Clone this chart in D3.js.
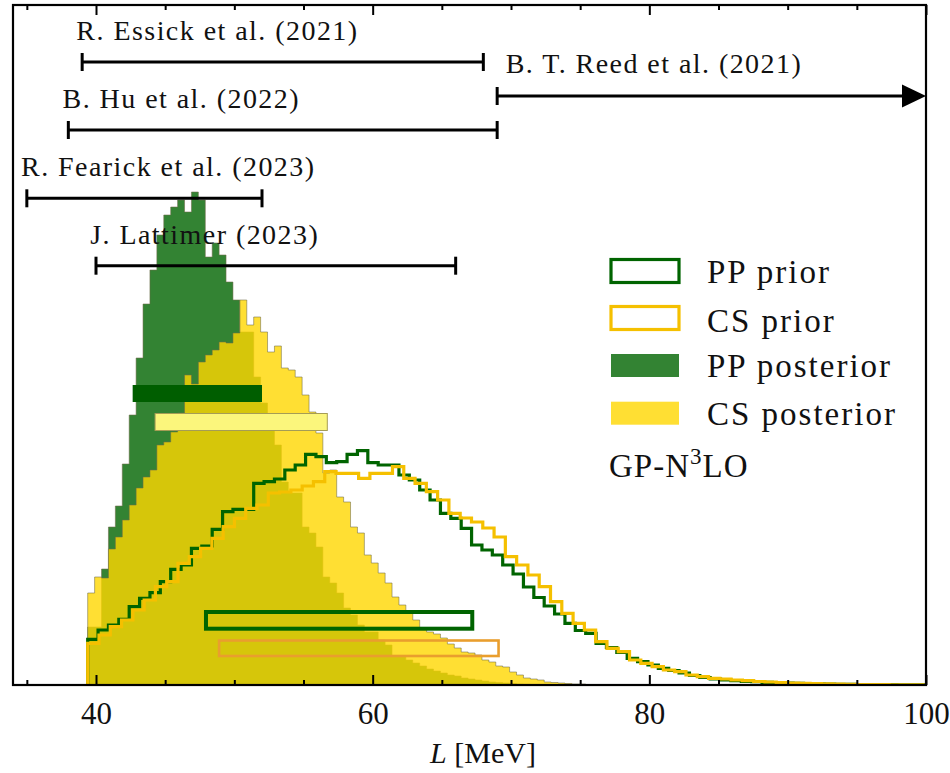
<!DOCTYPE html>
<html>
<head>
<meta charset="utf-8">
<script src="https://cdn.jsdelivr.net/npm/d3@7"></script>
<style>
  body { margin: 0; background: #fff; }
  text { font-family: "Liberation Serif", "Times New Roman", serif; fill: #111; }
</style>
</head>
<body>
<svg id="chart" width="950" height="773"></svg>
<script>
// ---- data ---------------------------------------------------------------
// All histograms start at the same lower edge of L (MeV).
const histStart = 39.4;

// Posterior histograms: 0.5 MeV bins, relative density (arbitrary units)
const posteriorBinWidth = 0.5;
const ppPosterior = [
  58, 58, 116, 158, 179, 221, 270, 327, 381, 415,
  450, 470, 478, 485, 473, 493, 485, 428, 442, 430,
  403, 385, 353, 353, 308, 282, 265, 240, 203, 192,
  192, 158, 152, 138, 108, 102, 92, 77, 70, 60,
  53, 53, 45, 40, 28, 28, 25, 22, 19, 16,
  14, 12, 10, 9, 7, 6, 5, 4, 3, 2.5,
  2, 1.5, 1, 0.7, 0.5, 0.3, 0.2
];
const csPosterior = [
  92, 108, 107, 136, 148, 165, 180, 197, 208, 215,
  240, 243, 253, 272, 310, 301, 323, 330, 335, 343,
  342, 352, 385, 360, 368, 353, 333, 339, 317, 315,
  308, 290, 273, 252, 212, 215, 188, 183, 158, 152,
  130, 122, 112, 102, 88, 80, 73, 65, 57, 53,
  51, 47, 41, 37, 33, 32, 30, 25, 23, 19,
  18, 13, 10, 7, 6, 5, 3, 2.5, 2, 1.5,
  1, 1, 0.5, 0.5, 0.3, 0.2
];

// Prior histograms (outlines): own bin widths
const ppPriorBinWidth = 0.75;
const ppPrior = [
  45.7, 55, 60, 65.7, 78.3, 86.7, 92.3, 103.3, 115.7, 120,
  136.7, 139, 155.7, 173.3, 175.7, 175.7, 201.7, 203.3, 206, 215,
  220, 230.7, 228.3, 222.3, 223.3, 230.7, 234.3, 222.3, 220, 220,
  210, 205, 195, 185, 171.7, 166.7, 156.7, 140, 135, 130,
  120, 111, 98, 87.5, 79, 71, 61.7, 54.5, 51.7, 41.7,
  37.5, 32.5, 26.7, 23.3, 20, 16.7, 14.5, 12, 9.5, 7.5,
  6, 5, 4.3, 3.7, 3.3, 2.7, 2.3, 2, 1.7, 1.4,
  1.2, 0.9, 0.7, 0.6, 0.5, 0.4, 0.3, 0.3, 0.2, 0.2, 0.1
];
const csPriorBinWidth = 0.816;
const csPrior = [
  41.7, 50, 58.3, 65, 75, 85, 98.3, 103.3, 121.7, 128.3,
  136.7, 146.7, 158.3, 166.7, 176.7, 180, 192, 193, 195, 199,
  203.3, 213.3, 211.7, 211.7, 206.7, 211.7, 211.7, 218.3, 206.7, 201.7,
  193.3, 185, 171.7, 167, 163, 157, 148, 128.3, 120, 110,
  98.3, 83.3, 71.7, 61.7, 55, 43.3, 36.7, 33.3, 25, 21.7,
  18.3, 15, 13.3, 10, 8.3, 6.7, 6, 5, 4.3, 3.5,
  3, 2.5, 2, 1.7, 1.4, 1.1, 0.9, 0.7, 0.5, 0.4,
  0.3, 0.2, 0.2, 0.1
];

// 68% intervals of each distribution (MeV)
const posteriorIntervals = [
  { name: "PP posterior", lo: 42.65, hi: 52.0 },
  { name: "CS posterior", lo: 44.27, hi: 56.72 }
];
const priorIntervals = [
  { name: "PP prior", lo: 47.95, hi: 67.2 },
  { name: "CS prior", lo: 48.9, hi: 69.1 }
];

// Literature constraints on L (MeV); hi = null means open-ended
const refNames = ["R. Essick et al. (2021)", "B. T. Reed et al. (2021)", "B. Hu et al. (2022)",
                  "R. Fearick et al. (2023)", "J. Lattimer (2023)"];
const refLo = [39.0, 69.0, 38.0, 35.0, 40.0];
const refHi = [68.0, null, 69.0, 52.0, 66.0];

const xTicks = [40, 60, 80, 100];
const xMinorTicks = [35, 45, 50, 55, 65, 70, 75, 85, 90, 95];
const legendNames = ["PP prior", "CS prior", "PP posterior", "CS posterior"];

// ---- layout -------------------------------------------------------------
const svg = d3.select("#chart");
const plot = { left: 13, right: 926, top: 5, bottom: 685 };
const x = d3.scaleLinear().domain([34, 100]).range([plot.left, plot.right]);
const y = d3.scaleLinear().domain([0, 680]).range([plot.bottom, plot.top]);

const colors = {
  ppDark: "#006400",
  gold: "#ffd700",
  csLine: "#f5c000",
  edge: "#6d6a48"
};

svg.append("defs").append("clipPath").attr("id", "plotClip")
  .append("rect")
  .attr("x", plot.left).attr("y", plot.top)
  .attr("width", plot.right - plot.left).attr("height", plot.bottom - plot.top);

const g = svg.append("g").attr("clip-path", "url(#plotClip)");

// outline points of a histogram, closed down to zero at both ends
function stepPoints(start, width, vals) {
  const pts = [[start, 0]];
  vals.forEach((v, i) => {
    pts.push([start + i * width, v]);
    pts.push([start + (i + 1) * width, v]);
  });
  pts.push([start + vals.length * width, 0]);
  return pts;
}
const line = d3.line().x(d => x(d[0])).y(d => y(d[1]));
const area = d3.area().x(d => x(d[0])).y0(y(0)).y1(d => y(d[1]));

// filled posteriors
[[ppPosterior, colors.ppDark], [csPosterior, colors.gold]].forEach(([vals, c]) => {
  const pts = stepPoints(histStart, posteriorBinWidth, vals);
  g.append("path").attr("d", area(pts)).attr("fill", c).attr("fill-opacity", 0.8);
  g.append("path").attr("d", line(pts)).attr("fill", "none")
    .attr("stroke", colors.edge).attr("stroke-opacity", 0.55).attr("stroke-width", 1);
});

// prior outlines
g.append("path").attr("d", line(stepPoints(histStart, ppPriorBinWidth, ppPrior)))
  .attr("fill", "none").attr("stroke", colors.ppDark).attr("stroke-width", 3.2);
g.append("path").attr("d", line(stepPoints(histStart, csPriorBinWidth, csPrior)))
  .attr("fill", "none").attr("stroke", colors.csLine).attr("stroke-width", 3.2);

// interval bars
const postBarY = [385, 413.5];
const postBarH = 17;
g.append("rect")
  .attr("x", x(posteriorIntervals[0].lo)).attr("y", postBarY[0])
  .attr("width", x(posteriorIntervals[0].hi) - x(posteriorIntervals[0].lo)).attr("height", postBarH)
  .attr("fill", "#005e00");
g.append("rect")
  .attr("x", x(posteriorIntervals[1].lo)).attr("y", postBarY[1])
  .attr("width", x(posteriorIntervals[1].hi) - x(posteriorIntervals[1].lo)).attr("height", postBarH)
  .attr("fill", "#fbf67c").attr("stroke", "#a59c55").attr("stroke-width", 1);

g.append("rect")
  .attr("x", x(priorIntervals[0].lo)).attr("y", 612)
  .attr("width", x(priorIntervals[0].hi) - x(priorIntervals[0].lo)).attr("height", 16.7)
  .attr("fill", "none").attr("stroke", colors.ppDark).attr("stroke-width", 4);
g.append("rect")
  .attr("x", x(priorIntervals[1].lo)).attr("y", 640.5)
  .attr("width", x(priorIntervals[1].hi) - x(priorIntervals[1].lo)).attr("height", 15.5)
  .attr("fill", "none").attr("stroke", "#e99e2e").attr("stroke-width", 2.6);

// literature error bars
const refRowY = [62, 96, 130, 198.3, 265.7];
const capH = 18;
const refs = refNames.map((name, i) => ({ name, lo: refLo[i], hi: refHi[i], yy: refRowY[i] }));
const refG = svg.append("g");
refs.forEach(r => {
  const x0 = x(r.lo);
  const openEnded = r.hi === null;
  const x1 = openEnded ? x.range()[1] : x(r.hi);
  refG.append("line").attr("x1", x0).attr("x2", openEnded ? x1 - 20 : x1)
    .attr("y1", r.yy).attr("y2", r.yy).attr("stroke", "#000").attr("stroke-width", 3);
  refG.append("line").attr("x1", x0).attr("x2", x0)
    .attr("y1", r.yy - capH / 2).attr("y2", r.yy + capH / 2).attr("stroke", "#000").attr("stroke-width", 3);
  if (openEnded) {
    refG.append("path")
      .attr("d", `M${x1},${r.yy} L${x1 - 24},${r.yy - 11.5} L${x1 - 24},${r.yy + 11.5} Z`)
      .attr("fill", "#000");
  } else {
    refG.append("line").attr("x1", x1).attr("x2", x1)
      .attr("y1", r.yy - capH / 2).attr("y2", r.yy + capH / 2).attr("stroke", "#000").attr("stroke-width", 3);
  }
  // open-ended bars carry their label to the right, the others above
  const lx = openEnded ? x0 + 8.5 : x0 - 5.8;
  const ly = openEnded ? r.yy - 22.7 : r.yy - 22;
  refG.append("text").attr("x", lx).attr("y", ly)
    .attr("font-size", 28).attr("letter-spacing", 1.45).text(r.name);
});

// ---- axes and frame -------------------------------------------------------
const axG = svg.append("g");
const bottomMajor = axG.append("g").attr("transform", `translate(0,${plot.bottom})`)
  .call(d3.axisBottom(x).tickValues(xTicks).tickSize(-10).tickPadding(17).tickFormat(d3.format("d")));
axG.append("g").attr("transform", `translate(0,${plot.bottom})`)
  .call(d3.axisBottom(x).tickValues(xMinorTicks).tickSize(-5).tickFormat(""));
axG.append("g").attr("transform", `translate(0,${plot.top})`)
  .call(d3.axisTop(x).tickValues(xTicks).tickSize(-10).tickFormat(""));
axG.append("g").attr("transform", `translate(0,${plot.top})`)
  .call(d3.axisTop(x).tickValues(xMinorTicks).tickSize(-5).tickFormat(""));
axG.selectAll(".domain").remove();
axG.selectAll(".tick line").attr("stroke", "#000").attr("stroke-width", 2);
bottomMajor.selectAll(".tick text")
  .attr("font-family", "'Liberation Serif', serif").attr("font-size", 31).attr("fill", "#111");

svg.append("rect")
  .attr("x", plot.left).attr("y", plot.top)
  .attr("width", plot.right - plot.left).attr("height", plot.bottom - plot.top)
  .attr("fill", "none").attr("stroke", "#000").attr("stroke-width", 2.2);

const xLabel = svg.append("text").attr("x", 483).attr("y", 763)
  .attr("text-anchor", "middle").attr("font-size", 30);
xLabel.append("tspan").attr("font-style", "italic").text("L");
xLabel.append("tspan").text(" [MeV]");

// ---- legend ----------------------------------------------------------------
const legend = svg.append("g");
const legRowY = [259.5, 306.5, 354, 401.7];
const legText = [282.7, 331.7, 376.7, 425];
const patchX = 611, patchW = 68, patchH = 23;
legendNames.forEach((name, i) => {
  const r = legend.append("rect").attr("x", patchX).attr("y", legRowY[i])
    .attr("width", patchW).attr("height", patchH);
  if (i === 0) r.attr("fill", "none").attr("stroke", colors.ppDark).attr("stroke-width", 3.2);
  if (i === 1) r.attr("fill", "none").attr("stroke", colors.csLine).attr("stroke-width", 3.2);
  if (i === 2) r.attr("fill", colors.ppDark).attr("fill-opacity", 0.8);
  if (i === 3) r.attr("fill", colors.gold).attr("fill-opacity", 0.8);
  legend.append("text").attr("x", 707).attr("y", legText[i])
    .attr("font-size", 33).attr("letter-spacing", 2).text(name);
});
const gp = legend.append("text").attr("x", 609).attr("y", 476.7).attr("font-size", 33).attr("letter-spacing", 1);
gp.append("tspan").text("GP-N");
gp.append("tspan").attr("font-size", 23).attr("dy", -13).text("3");
gp.append("tspan").attr("dy", 13).text("LO");
</script>
</body>
</html>
